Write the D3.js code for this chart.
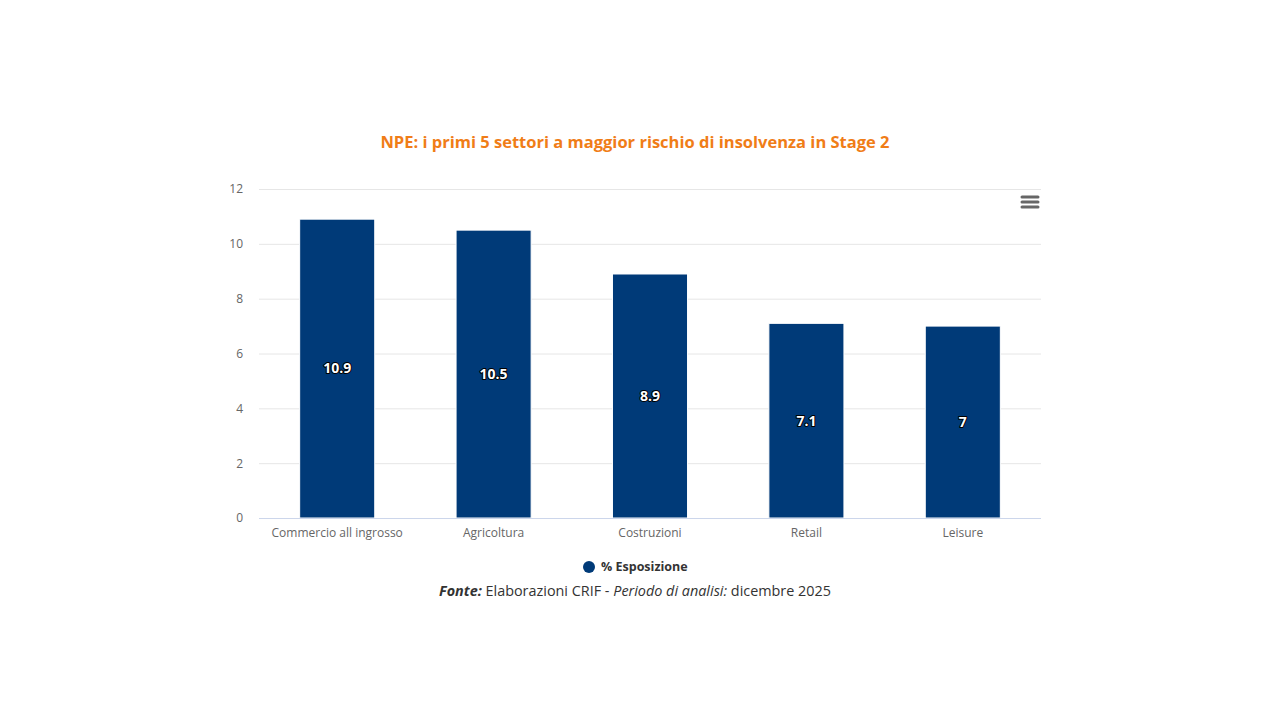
<!DOCTYPE html>
<html>
<head>
<meta charset="utf-8">
<script src="https://cdn.jsdelivr.net/npm/d3@7"></script>
<style>
  body { margin: 0; background: #fff; }
  svg { display: block; }
</style>
</head>
<body>
<div id="chart"></div>
<script>
const categories = ["Commercio all ingrosso", "Agricoltura", "Costruzioni", "Retail", "Leisure"];
const values = [10.9, 10.5, 8.9, 7.1, 7];
const yTicks = [0, 2, 4, 6, 8, 10, 12];
const seriesName = "% Esposizione";
const titleText = "NPE: i primi 5 settori a maggior rischio di insolvenza in Stage 2";

const width = 1280, height = 720;
const margin = { left: 259, right: 239, top: 189, bottom: 202 };
const barColor = "#003a78";

const svg = d3.select("#chart").append("svg")
    .attr("width", width)
    .attr("height", height);

const x = d3.scaleBand()
    .domain(categories)
    .range([margin.left, width - margin.right])
    .paddingInner(0.52)
    .paddingOuter(0.26);

const y = d3.scaleLinear()
    .domain([0, 12])
    .range([height - margin.bottom, margin.top]);

// gridlines
svg.append("g")
    .selectAll("line")
    .data(yTicks.filter(d => d > 0))
    .enter().append("line")
    .attr("x1", margin.left)
    .attr("x2", width - margin.right)
    .attr("y1", d => y(d) + 0.5)
    .attr("y2", d => y(d) + 0.5)
    .attr("stroke", "#e6e6e6");

// y axis labels
const yAxis = d3.axisLeft(y).tickValues(yTicks).tickSize(0).tickPadding(16);
svg.append("g")
    .attr("transform", `translate(${margin.left},0)`)
    .call(yAxis)
    .call(g => g.select(".domain").remove())
    .selectAll("text")
    .attr("fill", "#666")
    .style("font-family", "'Open Sans', sans-serif")
    .style("font-size", "12px");

// bars
svg.append("g")
    .selectAll("rect")
    .data(values)
    .enter().append("rect")
    .attr("x", (d, i) => x(categories[i]))
    .attr("y", d => y(d))
    .attr("width", x.bandwidth())
    .attr("height", d => y(0) - y(d))
    .attr("fill", barColor)
    .attr("stroke", "#ffffff")
    .attr("stroke-width", 1);

// x axis
const xAxis = d3.axisBottom(x).tickSize(0).tickPadding(10);
svg.append("g")
    .attr("transform", `translate(0,${y(0)})`)
    .call(xAxis)
    .call(g => g.select(".domain")
        .attr("stroke", "#ccd6eb")
        .attr("d", `M${margin.left},0.5H${width - margin.right}`))
    .selectAll("text")
    .attr("fill", "#666")
    .style("font-family", "'Open Sans', sans-serif")
    .style("font-size", "12px");

// data labels
svg.append("g")
    .selectAll("text")
    .data(values)
    .enter().append("text")
    .attr("x", (d, i) => x(categories[i]) + x.bandwidth() / 2)
    .attr("y", d => (y(d) + y(0)) / 2)
    .attr("dy", "0.35em")
    .attr("text-anchor", "middle")
    .attr("fill", "#fff")
    .attr("stroke", "#000")
    .attr("stroke-width", 2)
    .attr("stroke-linejoin", "round")
    .attr("paint-order", "stroke")
    .style("font-family", "'Open Sans', sans-serif")
    .style("font-weight", "bold")
    .style("font-size", "14px")
    .text(d => d);

// title
svg.append("text")
    .attr("x", 635)
    .attr("y", 148)
    .attr("text-anchor", "middle")
    .attr("fill", "#f07d17")
    .style("font-family", "'Open Sans', sans-serif")
    .style("font-weight", "bold")
    .style("font-size", "16.5px")
    .text(titleText);

// export menu icon
svg.append("g")
    .selectAll("line")
    .data([0, 1, 2])
    .enter().append("line")
    .attr("x1", 1022)
    .attr("x2", 1038)
    .attr("y1", d => 197 + d * 5)
    .attr("y2", d => 197 + d * 5)
    .attr("stroke", "#666")
    .attr("stroke-width", 3)
    .attr("stroke-linecap", "round");

// legend
const legend = svg.append("g").attr("transform", "translate(589,567)");
legend.append("circle").attr("r", 6).attr("fill", barColor);
legend.append("text")
    .attr("x", 12)
    .attr("dy", "0.35em")
    .attr("fill", "#333")
    .style("font-family", "'Open Sans', sans-serif")
    .style("font-weight", "bold")
    .style("font-size", "12.5px")
    .text(seriesName);

// source note
const src = svg.append("text")
    .attr("x", 635)
    .attr("y", 596)
    .attr("text-anchor", "middle")
    .attr("fill", "#333")
    .style("font-family", "'Open Sans', sans-serif")
    .style("font-size", "14.4px");
src.append("tspan").style("font-weight", "bold").style("font-style", "italic").text("Fonte:");
src.append("tspan").text(" Elaborazioni CRIF - ");
src.append("tspan").style("font-style", "italic").text("Periodo di analisi:");
src.append("tspan").text(" dicembre 2025");
</script>
</body>
</html>
